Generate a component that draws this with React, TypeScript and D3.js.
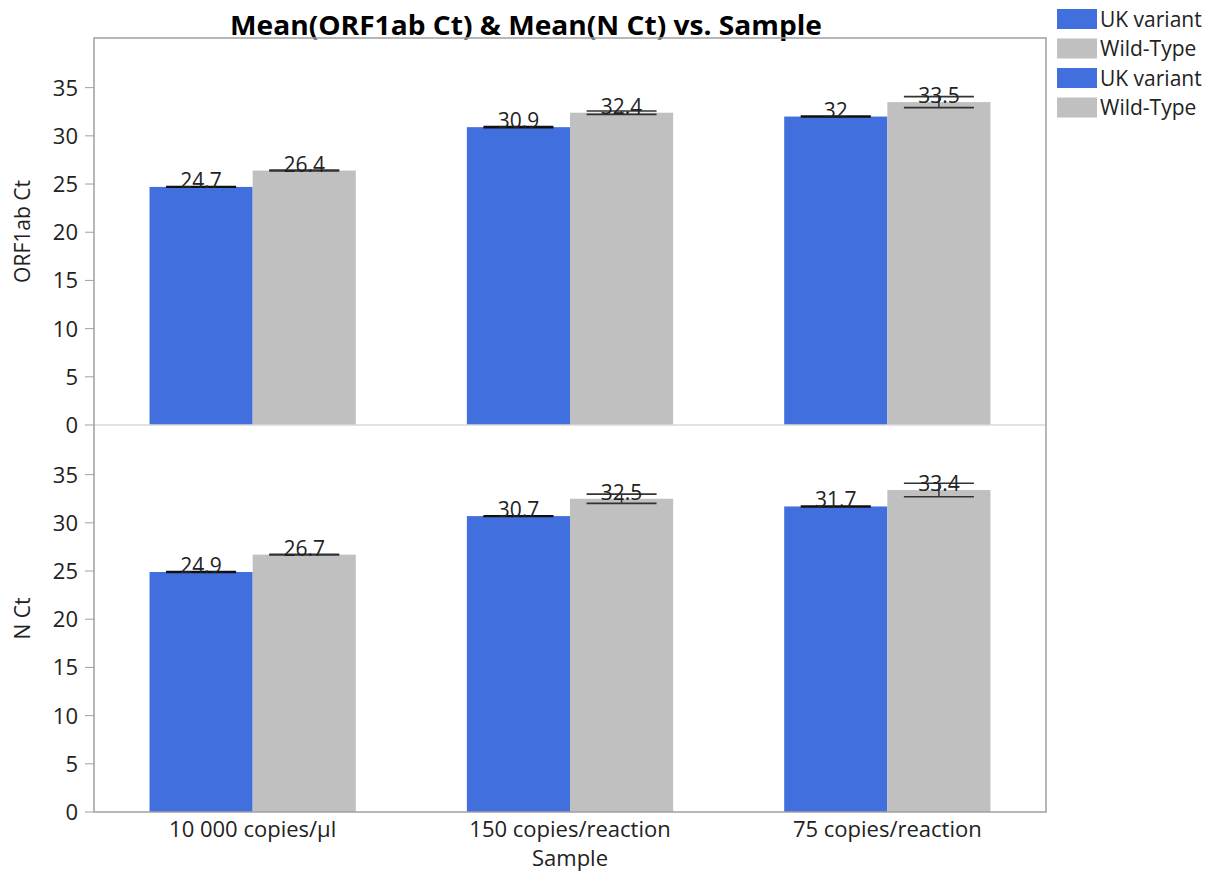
import React from "react";
import * as d3 from "d3";

const samples = ["10 000 copies/µl", "150 copies/reaction", "75 copies/reaction"];
const groups = ["UK variant", "Wild-Type"];
const orfMeans = [[24.7, 26.4], [30.9, 32.4], [32.0, 33.5]];
const orfErr = [[0.04, 0.04], [0.06, 0.17], [0.04, 0.57]];
const nMeans = [[24.9, 26.7], [30.7, 32.5], [31.7, 33.4]];
const nErr = [[0.04, 0.04], [0.04, 0.48], [0.04, 0.7]];
const yTicks = [0, 5, 10, 15, 20, 25, 30, 35];
const colors = ["#4170de", "#c0c0c0"];
const panels = [
  { title: "ORF1ab Ct", means: orfMeans, err: orfErr },
  { title: "N Ct", means: nMeans, err: nErr },
];

const W = 1214, H = 873;
const left = 94, right = 1046, top = 38, bottom = 812;
const panelH = (bottom - top) / 2;
const font = "'Open Sans', 'Noto Sans', sans-serif";

export default function App() {
  const x = d3.scaleBand<string>().domain(samples).range([left, right]).paddingInner(0.35).paddingOuter(0.175);
  const xi = d3.scaleBand<string>().domain(groups).range([0, x.bandwidth()]);
  return (
    <svg width={W} height={H} style={{ position: "absolute", left: 0, top: 0, background: "#fff" }}>
      <text x={526} y={35} textAnchor="middle" fontFamily={font} fontWeight="bold" fontSize={26} fill="#000" textLength={592} lengthAdjust="spacingAndGlyphs">
        Mean(ORF1ab Ct) &amp; Mean(N Ct) vs. Sample
      </text>
      {panels.map((p, pi) => {
        const y0 = top + panelH * (pi + 1);
        const y = d3.scaleLinear().domain([0, 40.15]).range([y0, y0 - panelH]);
        return (
          <g key={pi}>
            {yTicks.map((t) => (
              <g key={t}>
                <line x1={left - 9} x2={left} y1={y(t)} y2={y(t)} stroke="#a0a0a0" strokeWidth={1} />
                <text x={left - 16} y={y(t)} dy="0.36em" textAnchor="end" fontFamily={font} fontSize={22} fill="#222">{t}</text>
              </g>
            ))}
            <text transform={`translate(30,${y0 - panelH / 2}) rotate(-90)`} textAnchor="middle" fontFamily={font} fontSize={21} fill="#222">{p.title}</text>
            {samples.map((s, si) =>
              groups.map((g, gi) => {
                const v = p.means[si][gi];
                const e = p.err[si][gi];
                const bx = (x(s) as number) + (xi(g) as number);
                const bw = xi.bandwidth();
                const cx = bx + bw / 2;
                const cap = 35;
                const capColor = gi === 0 ? "#111" : "#333";
                return (
                  <g key={g}>
                    <rect x={bx} y={y(v)} width={bw} height={y0 - y(v)} fill={colors[gi]} />
                    <line x1={cx} x2={cx} y1={y(v + e)} y2={y(v - e)} stroke={capColor} strokeWidth={1.5} />
                    <line x1={cx - cap} x2={cx + cap} y1={y(v + e)} y2={y(v + e)} stroke={capColor} strokeWidth={1.6} />
                    <line x1={cx - cap} x2={cx + cap} y1={y(v - e)} y2={y(v - e)} stroke={capColor} strokeWidth={1.6} />
                    <text x={cx} y={y(v) + 1} textAnchor="middle" fontFamily={font} fontSize={21} fill="#222">{d3.format("")(v)}</text>
                  </g>
                );
              })
            )}
          </g>
        );
      })}
      <line x1={left} x2={right} y1={top + panelH} y2={top + panelH} stroke="#d8d8d8" strokeWidth={1.5} />
      <rect x={left} y={top} width={right - left} height={bottom - top} fill="none" stroke="#a0a0a0" strokeWidth={1.5} />
      {samples.map((s) => (
        <text key={s} x={(x(s) as number) + x.bandwidth() / 2} y={837} textAnchor="middle" fontFamily={font} fontSize={22} fill="#222">{s}</text>
      ))}
      <text x={(left + right) / 2} y={866} textAnchor="middle" fontFamily={font} fontSize={22} fill="#222">Sample</text>
      {[0, 1, 0, 1].map((gi, i) => (
        <g key={i} transform={`translate(1057,${9 + i * 29.5})`}>
          <rect width={40} height={20} fill={colors[gi]} />
          <text x={43} y={10} dy="0.36em" fontFamily={font} fontSize={21} fill="#222">{groups[gi]}</text>
        </g>
      ))}
    </svg>
  );
}
